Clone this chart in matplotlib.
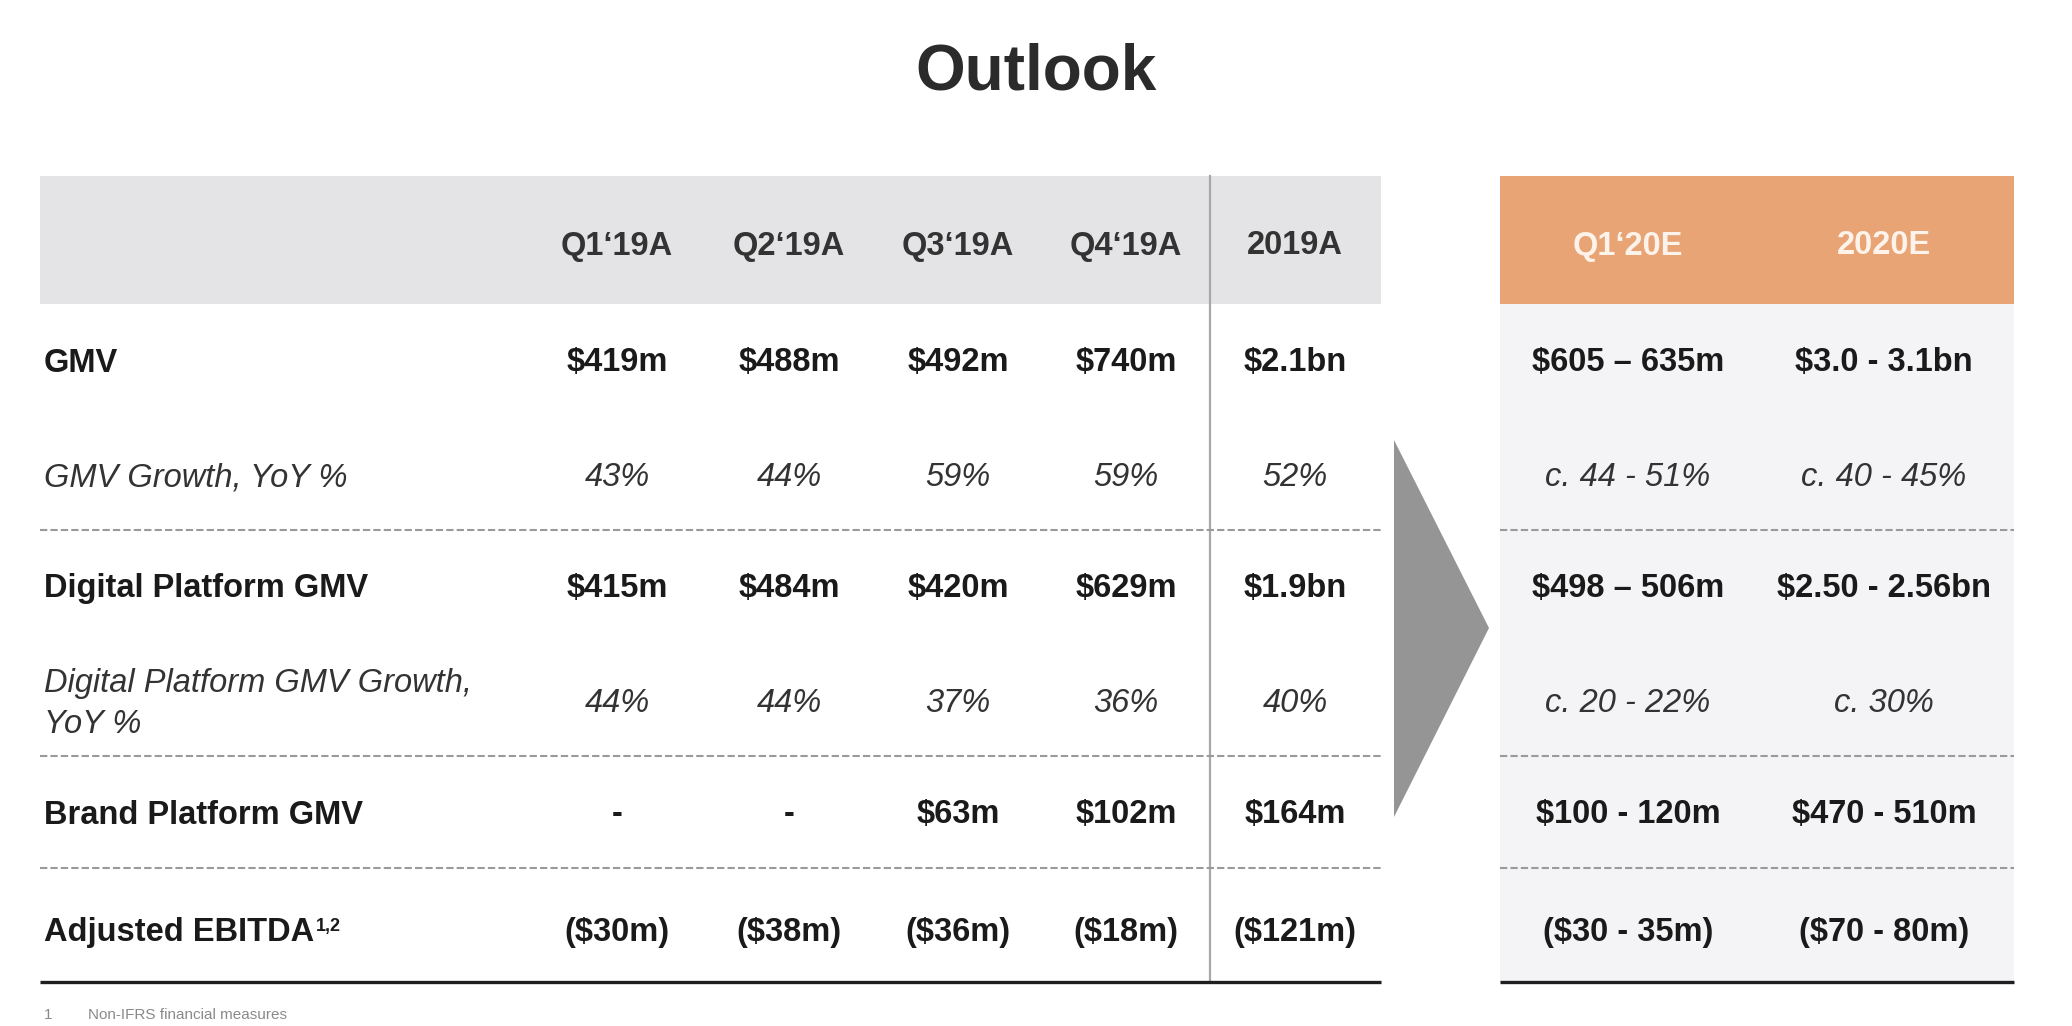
import matplotlib
matplotlib.use('Agg')
import matplotlib.pyplot as plt
from matplotlib.patches import Rectangle, Polygon

plt.rcParams['font.family'] = ['Liberation Sans', 'DejaVu Sans']
plt.rcParams['text.parse_math'] = False

# table content
hist_cols = ['Q1‘19A', 'Q2‘19A', 'Q3‘19A', 'Q4‘19A', '2019A']
fc_cols = ['Q1‘20E', '2020E']
row_labels = ['GMV', 'GMV Growth, YoY %', 'Digital Platform GMV',
              'Digital Platform GMV Growth,\nYoY %', 'Brand Platform GMV',
              'Adjusted EBITDA']
label_note = '1,2'

gmv = ['$419m', '$488m', '$492m', '$740m', '$2.1bn']
gmv_growth = ['43%', '44%', '59%', '59%', '52%']
dp_gmv = ['$415m', '$484m', '$420m', '$629m', '$1.9bn']
dp_growth = ['44%', '44%', '37%', '36%', '40%']
brand_gmv = ['-', '-', '$63m', '$102m', '$164m']
adj_ebitda = ['($30m)', '($38m)', '($36m)', '($18m)', '($121m)']

gmv_fc = ['$605 – 635m', '$3.0 - 3.1bn']
gmv_growth_fc = ['c. 44 - 51%', 'c. 40 - 45%']
dp_gmv_fc = ['$498 – 506m', '$2.50 - 2.56bn']
dp_growth_fc = ['c. 20 - 22%', 'c. 30%']
brand_gmv_fc = ['$100 - 120m', '$470 - 510m']
adj_ebitda_fc = ['($30 - 35m)', '($70 - 80m)']

footnote = 'Non-IFRS financial measures'

hist_rows = [gmv, gmv_growth, dp_gmv, dp_growth, brand_gmv, adj_ebitda]
fc_rows = [gmv_fc, gmv_growth_fc, dp_gmv_fc, dp_growth_fc, brand_gmv_fc, adj_ebitda_fc]
italic_rows = [False, True, False, True, False, False]

# layout (pixel coordinates, y down)
W, H = 2072, 1026
row_y = [363, 478, 589, 704, 815, 932]
head_text_y = 246
hist_x = [617, 789, 958, 1126, 1295]
fc_x = [1628, 1884]
left_x0, left_x1 = 40, 1381
right_x0, right_x1 = 1500, 2014
head_y0, head_y1 = 176, 304
bottom_y = 982
dash_y = [530, 756, 868]
fs = 23.5

fig = plt.figure(figsize=(W / 100, H / 100), dpi=100)
ax = fig.add_axes([0, 0, 1, 1])
ax.set_xlim(0, W)
ax.set_ylim(H, 0)
ax.axis('off')

ax.text(W / 2, 72, 'Outlook', ha='center', va='center', fontsize=46,
        fontweight='bold', color='#2b2b2b')

# backgrounds
ax.add_patch(Rectangle((left_x0, head_y0), left_x1 - left_x0, head_y1 - head_y0,
                       fc='#e4e4e6', ec='none'))
ax.add_patch(Rectangle((right_x0, head_y0), right_x1 - right_x0, head_y1 - head_y0,
                       fc='#e8a475', ec='none'))
ax.add_patch(Rectangle((right_x0, head_y1), right_x1 - right_x0, bottom_y - head_y1,
                       fc='#f4f4f6', ec='none'))

# arrow
ax.add_patch(Polygon([(1394, 440), (1394, 817), (1489, 628)], closed=True,
                     fc='#959595', ec='none'))

# lines
ax.plot([1210, 1210], [head_y0, bottom_y], color='#a8a8a8', lw=1.6)
for y in dash_y:
    for x0, x1 in [(left_x0, left_x1), (right_x0, right_x1)]:
        ax.plot([x0, x1], [y, y], color='#9a9a9a', lw=1.5, dashes=(3.5, 1.5))
for x0, x1 in [(left_x0, left_x1), (right_x0, right_x1)]:
    ax.plot([x0, x1], [bottom_y, bottom_y], color='#1e1e1e', lw=2.4,
            solid_capstyle='butt')

# headers
for x, c in zip(hist_x, hist_cols):
    ax.text(x, head_text_y, c, ha='center', va='center', fontsize=fs,
            fontweight='bold', color='#333333')
for x, c in zip(fc_x, fc_cols):
    ax.text(x, head_text_y, c, ha='center', va='center', fontsize=fs,
            fontweight='bold', color='#fdf3ea')

# rows
for i, (label, y) in enumerate(zip(row_labels, row_y)):
    if italic_rows[i]:
        style = dict(fontstyle='italic', color='#333333', fontweight='normal')
    else:
        style = dict(fontstyle='normal', color='#1a1a1a', fontweight='bold')
    t = ax.text(44, y, label, ha='left', va='center', fontsize=fs,
                linespacing=1.45, **style)
    if i == 5:
        ax.annotate(label_note, xy=(1, 1), xycoords=t, xytext=(1, -1),
                    textcoords='offset points', ha='left', va='top',
                    fontsize=13, fontweight='bold', color='#1a1a1a')
    for x, v in zip(hist_x, hist_rows[i]):
        ax.text(x, y, v, ha='center', va='center', fontsize=fs, **style)
    for x, v in zip(fc_x, fc_rows[i]):
        ax.text(x, y, v, ha='center', va='center', fontsize=fs, **style)

# footnote
ax.text(44, 1008, '1', ha='left', va='top', fontsize=11, color='#8a8a8a')
ax.text(88, 1008, footnote, ha='left', va='top', fontsize=11, color='#8a8a8a')

fig.savefig('out.png', dpi=100, facecolor='white')
